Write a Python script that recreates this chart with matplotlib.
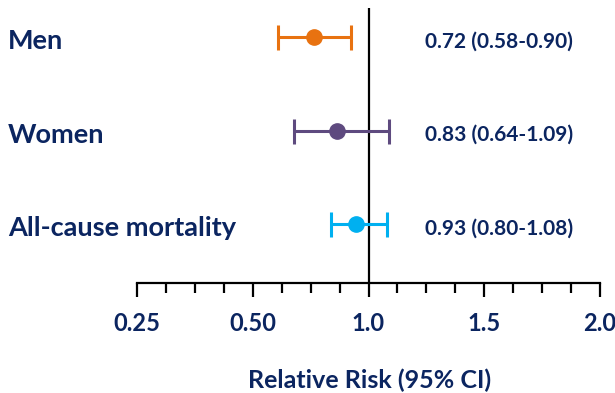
import matplotlib
matplotlib.use("Agg")
import matplotlib.pyplot as plt
import matplotlib.transforms as mtransforms
import numpy as np

plt.rcParams['font.family'] = ['Lato', 'DejaVu Sans']
plt.rcParams['font.weight'] = 'bold'

NAVY = '#0b2560'

groups = ['Men', 'Women', 'All-cause mortality']
rr = [0.72, 0.83, 0.93]
lo = [0.58, 0.64, 0.80]
hi = [0.90, 1.09, 1.08]
labels = ['0.72 (0.58-0.90)', '0.83 (0.64-1.09)', '0.93 (0.80-1.08)']
colors = ['#e87210', '#5e4a7f', '#00b0f0']
rows = [3, 2, 1]

ticks = [0.25, 0.5, 1.0, 1.5, 2.0]
tick_labels = ['0.25', '0.50', '1.0', '1.5', '2.0']


# log2 below 1, linear above 1 (each major step equally spaced)
def fwd(v):
    v = np.asarray(v, dtype=float)
    return np.where(v < 1, np.log2(np.maximum(v, 1e-9)), (v - 1) * 2)


def inv(p):
    p = np.asarray(p, dtype=float)
    return np.where(p < 0, 2.0 ** p, 1 + p / 2)


fig = plt.figure(figsize=(6.15, 3.93), dpi=100)
ax = fig.add_axes([137 / 615, 110 / 393, 463 / 615, 275 / 393])
ax.set_xscale('function', functions=(fwd, inv))
ax.set_xlim(0.25, 2.0)
ax.set_ylim(0.37, 3.31)

ax.axvline(1.0, color='black', lw=1.6, zorder=1)

for y, m, l, h, c in zip(rows, rr, lo, hi, colors):
    ax.errorbar([m], [y], xerr=[[m - l], [h - m]], fmt='o', color=c,
                ms=11, lw=2.2, capsize=9, capthick=2.2, zorder=3)

# x in figure fraction, y in data, nudged a little down
trans = mtransforms.blended_transform_factory(fig.transFigure, ax.transData)
trans = mtransforms.offset_copy(trans, fig=fig, y=-3, units='points')
for y, g, t in zip(rows, groups, labels):
    ax.text(8 / 615, y, g, transform=trans, ha='left', va='center',
            fontsize=19.5, color=NAVY, fontweight='bold')
    ax.text(425 / 615, y, t, transform=trans, ha='left', va='center',
            fontsize=15, color=NAVY, fontweight='bold')

for s in ['top', 'right', 'left']:
    ax.spines[s].set_visible(False)
ax.spines['bottom'].set_linewidth(1.6)
ax.set_yticks([])

ax.set_xticks(ticks)
ax.set_xticklabels(tick_labels)
ax.set_xticks(inv(np.arange(-2, 2.01, 0.25)), minor=True)
ax.tick_params(axis='x', which='major', length=10, width=1.6, direction='out',
               pad=11, labelsize=17, labelcolor=NAVY)
ax.tick_params(axis='x', which='minor', length=7, width=1.6, direction='out')
for lab in ax.get_xticklabels():
    lab.set_fontweight('bold')

fig.text(370 / 615, 1 - 380 / 393, 'Relative Risk (95% CI)', ha='center', va='center',
         fontsize=18, color=NAVY, fontweight='bold')

fig.savefig('out.png', dpi=100)
plt.close()
